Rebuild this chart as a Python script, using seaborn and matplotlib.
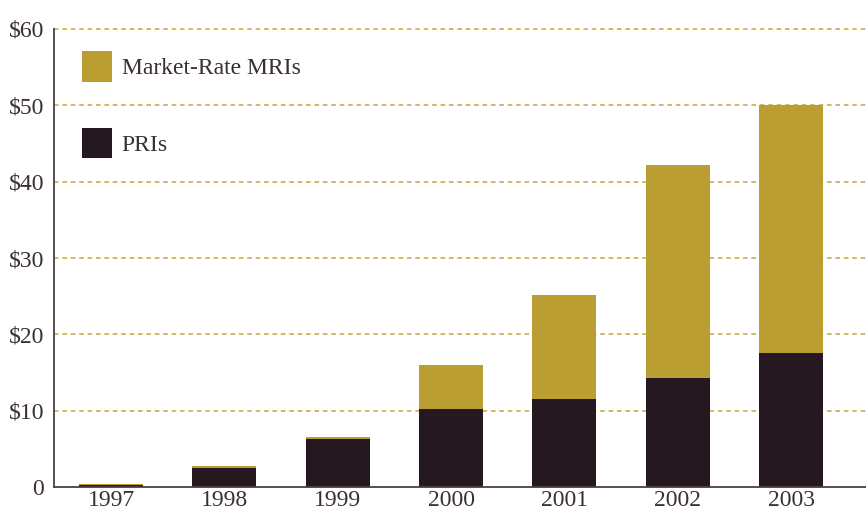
import numpy as np
import pandas as pd
import matplotlib
matplotlib.use("Agg")
import matplotlib.pyplot as plt
import seaborn as sns
from matplotlib.patches import Patch

# data (billions of $)
years = ["1997", "1998", "1999", "2000", "2001", "2002", "2003"]
pri = [0.3, 2.5, 6.3, 10.2, 11.5, 14.3, 17.6]
mri = [0.1, 0.25, 0.2, 5.8, 13.7, 27.9, 32.4]
yticks = [0, 10, 20, 30, 40, 50, 60]
ytick_labels = ["0", "$10", "$20", "$30", "$40", "$50", "$60"]

gold = "#BA9E32"
dark = "#261820"
text_col = "#3a2f35"

df = pd.DataFrame({"year": years, "PRI": pri, "MRI": mri})
df["total"] = df["PRI"] + df["MRI"]

sns.set_style("white")
plt.rcParams["font.family"] = ["Liberation Serif", "DejaVu Serif"]

fig = plt.figure(figsize=(8.66, 5.17), dpi=100)
ax = fig.add_axes([54 / 866, 30 / 517, 812 / 866, 458 / 517])

# -----------------------------
# stacked bars: total in gold, PRIs in dark on top
# -----------------------------
sns.barplot(data=df, x="year", y="total", color=gold, width=0.565,
            saturation=1, linewidth=0, ax=ax, zorder=3)
sns.barplot(data=df, x="year", y="PRI", color=dark, width=0.565,
            saturation=1, linewidth=0, ax=ax, zorder=4)

ax.set_xlim(-0.503, 6.66)
ax.set_ylim(0, 60)
ax.set_yticks(yticks)
ax.set_yticklabels(ytick_labels)
ax.set_xlabel("")
ax.set_ylabel("")

for y in yticks[1:]:
    ax.axhline(y, color="#C4A83A", linestyle=(0, (3, 2.5)), linewidth=1.1,
               zorder=1, clip_on=False)

sns.despine(ax=ax, top=True, right=True)
for side in ["left", "bottom"]:
    ax.spines[side].set_color("#4a3f45")
    ax.spines[side].set_linewidth(1.3)
    ax.spines[side].set_zorder(5)

ax.tick_params(axis="both", length=0, labelsize=17, labelcolor=text_col)
ax.tick_params(axis="y", pad=7)
ax.tick_params(axis="x", pad=2)

handles = [Patch(facecolor=gold, edgecolor="none"),
           Patch(facecolor=dark, edgecolor="none")]
leg = ax.legend(handles, ["Market-Rate MRIs", "PRIs"], loc="upper left",
                bbox_to_anchor=(0.035, 0.951), frameon=False, fontsize=17,
                handlelength=1.27, handleheight=1.6, labelspacing=1.95,
                handletextpad=0.4, borderaxespad=0, borderpad=0)
for t in leg.get_texts():
    t.set_color(text_col)

fig.savefig("out.png", dpi=100)
